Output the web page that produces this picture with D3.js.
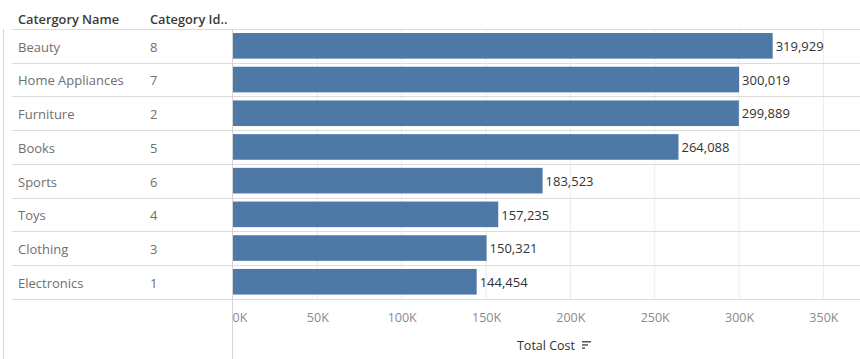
<!DOCTYPE html>
<html><head><meta charset="utf-8">
<script src="https://cdn.jsdelivr.net/npm/d3@7"></script>
<style>
html,body{margin:0;padding:0;background:#fff;}
svg{display:block;font-family:"Open Sans",Lato,sans-serif;}
</style></head>
<body>
<svg id="c" width="860" height="359"></svg>
<script>
const categories = ["Beauty","Home Appliances","Furniture","Books","Sports","Toys","Clothing","Electronics"];
const categoryIds = [8,7,2,5,6,4,3,1];
const totalCost = [319929,300019,299889,264088,183523,157235,150321,144454];
const tickValues = [0,50000,100000,150000,200000,250000,300000,350000];
const headers = ["Catergory Name","Category Id.."];
const axisTitle = "Total Cost";

(function(){
const svg = d3.select("#c");
const topY = 29, rowH = 33.7, plotLeft = 233, plotRight = 860;
const bottomY = topY + rowH*categories.length;
const FF = "'Open Sans',Lato,sans-serif";

const x = d3.scaleLinear().domain([0, 371700]).range([plotLeft, plotRight]);
const y = d3.scaleBand().domain(categories).range([topY, bottomY]).paddingInner(0.24).paddingOuter(0.12);
const yRow = d3.scaleBand().domain(categories).range([topY, bottomY]);

// gridlines
svg.append("g").selectAll("line").data(tickValues.slice(1)).join("line")
  .attr("x1", d=>x(d)).attr("x2", d=>x(d)).attr("y1", topY).attr("y2", bottomY)
  .attr("stroke","#ececec").attr("stroke-width",1);

// row separators
const seps = [topY].concat(categories.map(c=>yRow(c)+yRow.bandwidth()));
svg.append("g").selectAll("line").data(seps).join("line")
  .attr("x1",12).attr("x2",860).attr("y1",d=>Math.round(d)+0.5).attr("y2",d=>Math.round(d)+0.5)
  .attr("stroke","#dcdcdc");

// left frame line
svg.append("line").attr("x1",3.5).attr("x2",3.5).attr("y1",topY).attr("y2",359).attr("stroke","#d4d4d4");
// axis line
svg.append("line").attr("x1",232.5).attr("x2",232.5).attr("y1",topY).attr("y2",359).attr("stroke","#d4d4d4");

// bars
svg.append("g").selectAll("rect").data(categories).join("rect")
  .attr("x", x(0)).attr("y", d=>y(d)).attr("height", y.bandwidth())
  .attr("width", (d,i)=>x(totalCost[i])-x(0)).attr("fill","#4e79a7");

// value labels
svg.append("g").selectAll("text").data(categories).join("text")
  .attr("x",(d,i)=>x(totalCost[i])+3).attr("y",d=>y(d)+y.bandwidth()/2).attr("dy","0.4em")
  .attr("font-size",13).attr("fill","#333")
  .text((d,i)=>d3.format(",")(totalCost[i]));

// headers
svg.append("g").selectAll("text").data(headers).join("text")
  .attr("x",(d,i)=>i===0?18:150).attr("y",24)
  .attr("font-size",12.8).attr("fill","#3a3a3a").attr("font-weight",600)
  .text(d=>d);

// row labels
svg.append("g").selectAll("text").data(categories).join("text")
  .attr("x",18).attr("y",d=>yRow(d)+yRow.bandwidth()/2).attr("dy","0.45em")
  .attr("font-size",13).attr("fill","#6f6f6f").text(d=>d);
svg.append("g").selectAll("text").data(categories).join("text")
  .attr("x",150).attr("y",d=>yRow(d)+yRow.bandwidth()/2).attr("dy","0.45em")
  .attr("font-size",13).attr("fill","#6f6f6f").text((d,i)=>categoryIds[i]);

// x axis
const ax = svg.append("g").attr("transform",`translate(0,${bottomY})`)
  .call(d3.axisBottom(x).tickValues(tickValues).tickSize(0).tickPadding(15).tickFormat(d=>(d/1000)+"K"));
ax.select(".domain").remove();
ax.selectAll("text").attr("font-size",12.5).attr("fill","#8a8a8a").attr("font-family",FF)
  .attr("text-anchor",(d)=>d===0?"start":"middle").attr("dx",d=>d===0?-1:0);

// axis title
const cx = 546;
const t = svg.append("text").attr("x",cx).attr("y",350).attr("text-anchor","middle")
  .attr("font-size",12.5).attr("fill","#333").text(axisTitle);
const tw = t.node().getComputedTextLength();
const ix = cx + tw/2 + 7;
const icon = svg.append("g").attr("fill","#555");
[9,6,3].forEach((w,i)=>{
  icon.append("rect").attr("x",ix).attr("y",341+i*3.2).attr("width",w).attr("height",1.5);
});
})();
</script>
</body></html>
